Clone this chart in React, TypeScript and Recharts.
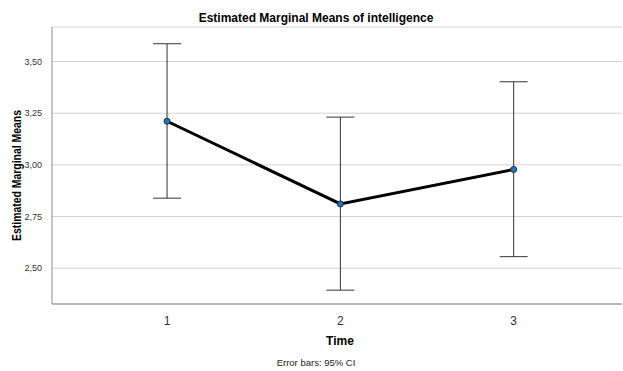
import React from 'react';
import { ComposedChart, Line, XAxis, YAxis, CartesianGrid, ErrorBar } from 'recharts';

const times = [1, 2, 3];
const means = [3.211, 2.811, 2.978];
const lowerCI = [2.839, 2.394, 2.556];
const upperCI = [3.586, 3.231, 3.402];
const yTicks = [2.5, 2.75, 3.0, 3.25, 3.5];

const data = times.map((t, i) => ({
  time: t,
  mean: means[i],
  err: [means[i] - lowerCI[i], upperCI[i] - means[i]],
}));

const FONT = '"Liberation Sans", Arial, sans-serif';

const fmt = (v: number) => v.toFixed(2).replace('.', ',');

function Dot(props: any) {
  const { cx, cy } = props;
  return <circle cx={cx} cy={cy} r={3} fill="#1f77c4" stroke="#1a2a3a" strokeWidth={1} />;
}

function YLabel(props: any) {
  const { viewBox } = props;
  const cy = viewBox.y + viewBox.height / 2 + 10;
  return (
    <text x={17} y={cy} transform={`rotate(-90, 17, ${cy})`} textAnchor="middle" dominantBaseline="central"
      fontFamily={FONT} fontSize={12} fontWeight="bold" fill="#000" textLength={131} lengthAdjust="spacingAndGlyphs">
      Estimated Marginal Means
    </text>
  );
}

function XLabel(props: any) {
  const { viewBox } = props;
  return (
    <g>
      <text x={340} y={viewBox.y + 37} textAnchor="middle" dominantBaseline="central"
        fontFamily={FONT} fontSize={12} fontWeight="bold" fill="#000">Time</text>
      <text x={316} y={viewBox.y + 58} textAnchor="middle" dominantBaseline="central"
        fontFamily={FONT} fontSize={9.5} fill="#222">Error bars: 95% CI</text>
    </g>
  );
}

export default function App() {
  return (
    <div style={{ width: 623, height: 371, background: '#fff', position: 'relative' }}>
      <style>{'body{margin:0}'}</style>
      <ComposedChart width={623} height={371} data={data} margin={{ top: 27, right: 1, left: 0, bottom: 0 }}>
        <text x={316} y={18} textAnchor="middle" dominantBaseline="central"
          fontFamily={FONT} fontSize={12} fontWeight="bold" fill="#000">
          Estimated Marginal Means of intelligence
        </text>
        <CartesianGrid vertical={false} stroke="#d2d2d2" strokeWidth={1} />
        <XAxis dataKey="time" type="number" domain={[0.336, 3.625]} ticks={times} allowDataOverflow
          height={67} tickLine={false} axisLine={{ stroke: '#8a8a8a' }}
          tick={{ fontFamily: FONT, fontSize: 12, fill: '#333' }} tickMargin={6}
          label={{ content: <XLabel /> }} />
        <YAxis type="number" domain={[2.327, 3.667]} ticks={yTicks} allowDataOverflow width={52}
          tickLine={false} axisLine={{ stroke: '#8a8a8a' }} tickFormatter={fmt}
          tick={{ fontFamily: FONT, fontSize: 9, fill: '#333' }} tickMargin={4}
          label={{ content: <YLabel /> }} />
        <Line dataKey="mean" stroke="#000" strokeWidth={3} isAnimationActive={false}
          dot={<Dot />} activeDot={false}>
          <ErrorBar dataKey="err" width={14} stroke="#333" strokeWidth={1} direction="y" />
        </Line>
      </ComposedChart>
    </div>
  );
}
